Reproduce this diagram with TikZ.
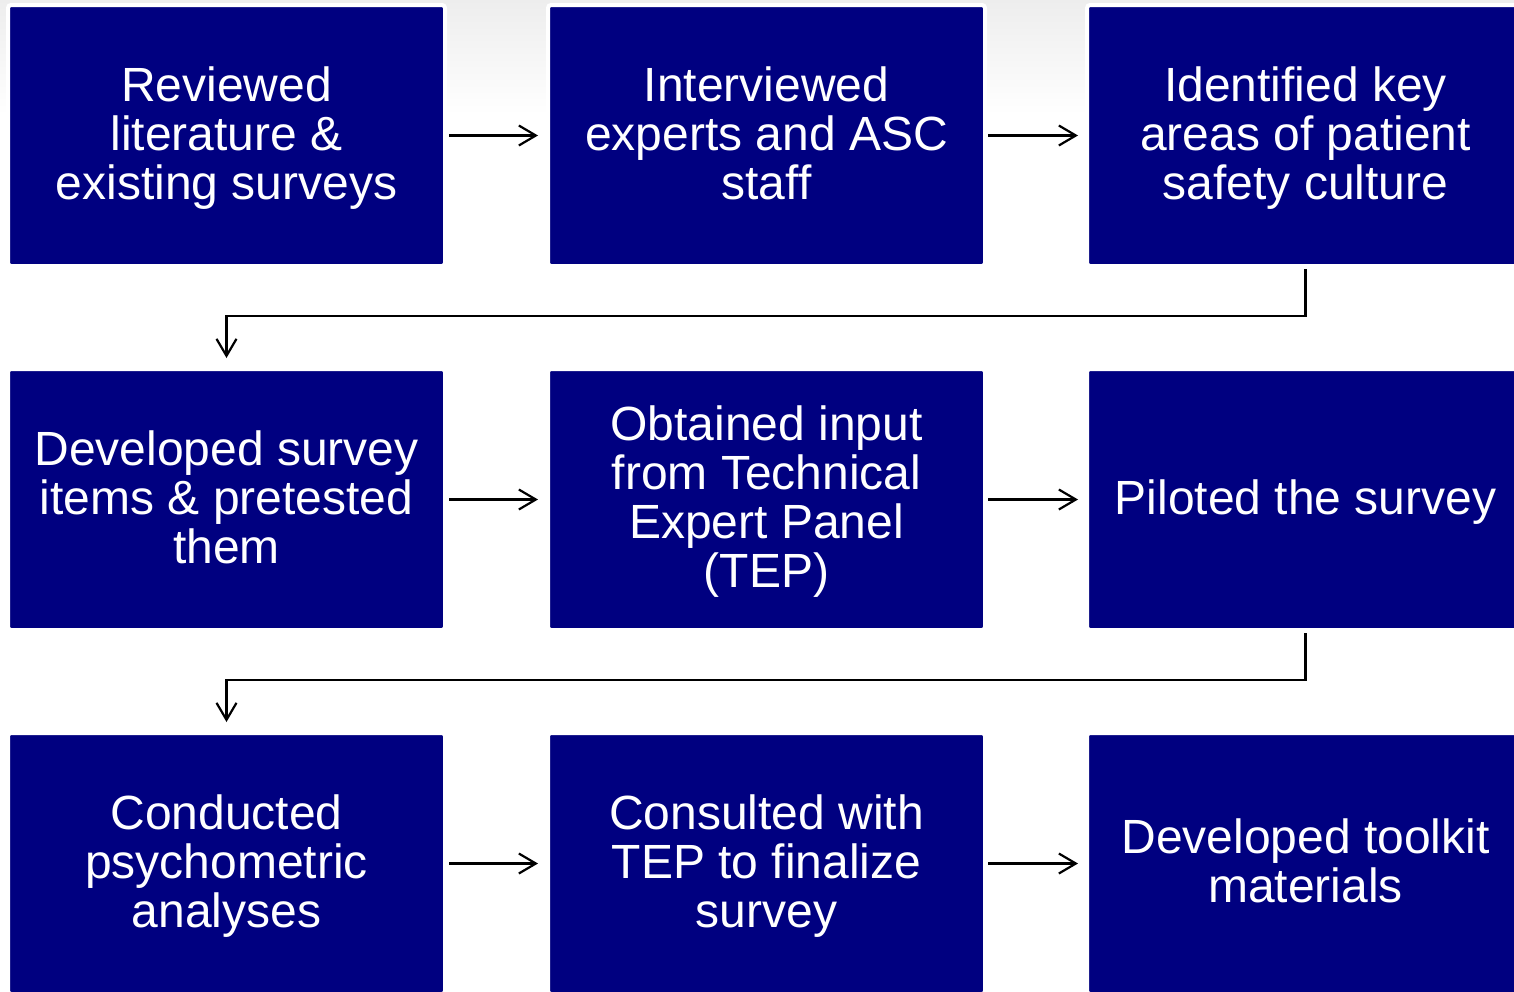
\documentclass[tikz,border=0pt]{standalone}
\usepackage{fontspec}
\setmainfont{Liberation Sans}
\usetikzlibrary{arrows.meta}
\definecolor{navyblue}{HTML}{000080}
% invisible props giving every first line the same height
\newcommand\headprop{\rule{0pt}{40pt}}
\begin{document}
\begin{tikzpicture}[x=1pt,y=-1pt,
  stepbox/.style={fill=navyblue, draw=white, line width=4pt, rounded corners=3pt,
    minimum width=437pt, minimum height=261pt, outer sep=0pt, inner sep=0pt,
    text=white, align=center, font=\fontsize{48pt}{49pt}\selectfont,
    % fixed last-line depth so blocks centre by line count
    execute at end node={\rule[-11pt]{0pt}{11pt}}},
  flow/.style={line width=2.2pt, -{Straight Barb[length=17pt,width=20pt,line width=2.2pt]}}]
  % page frame and soft top shading
  \useasboundingbox (0,0) rectangle (1514,991);
  \clip (0,0) rectangle (1514,991);
  \fill[white] (0,0) rectangle (1514,991);
  \shade[top color=black!7, bottom color=white] (0,0) rectangle (1514,115);

  % process steps
  \node[stepbox] (b1) at (226.5,135.5) {\headprop Reviewed\\literature \&\\existing surveys};
  \node[stepbox] (b2) at (766.5,135.5) {\headprop Interviewed\\experts and ASC\\staff};
  \node[stepbox] (b3) at (1305.5,135.5) {\headprop Identified key\\areas of patient\\safety culture};
  \node[stepbox] (b4) at (226.5,499.5) {\headprop Developed survey\\items \& pretested\\them};
  \node[stepbox] (b5) at (766.5,499.5) {\headprop Obtained input\\from Technical\\Expert Panel\\(TEP)};
  \node[stepbox] (b6) at (1305.5,499.5) {\headprop Piloted the survey};
  \node[stepbox] (b7) at (226.5,863.5) {\headprop Conducted\\psychometric\\analyses};
  \node[stepbox] (b8) at (766.5,863.5) {\headprop Consulted with\\TEP to finalize\\survey};
  \node[stepbox] (b9) at (1305.5,863.5) {\headprop Developed toolkit\\materials};

  % arrows within rows
  \draw[flow] ([xshift=4pt]b1.east) -- ([xshift=-10pt]b2.west);
  \draw[flow] ([xshift=3pt]b2.east) -- ([xshift=-9pt]b3.west);
  \draw[flow] ([xshift=4pt]b4.east) -- ([xshift=-10pt]b5.west);
  \draw[flow] ([xshift=3pt]b5.east) -- ([xshift=-9pt]b6.west);
  \draw[flow] ([xshift=4pt]b7.east) -- ([xshift=-10pt]b8.west);
  \draw[flow] ([xshift=3pt]b8.east) -- ([xshift=-9pt]b9.west);

  % wrap-around connectors between rows
  \draw[flow] ([yshift=-3pt]b3.south) -- ++(0,47) -| ([yshift=11pt]b4.north);
  \draw[flow] ([yshift=-3pt]b6.south) -- ++(0,47) -| ([yshift=11pt]b7.north);
\end{tikzpicture}
\end{document}
